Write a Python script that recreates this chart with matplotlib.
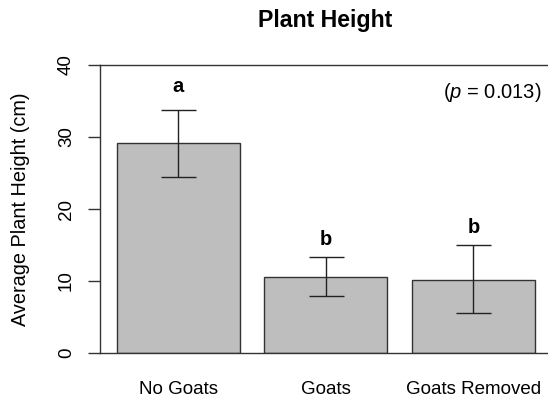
import matplotlib.pyplot as plt
import numpy as np

plt.rcParams['font.family'] = ['Liberation Sans', 'DejaVu Sans']
plt.rcParams['mathtext.fontset'] = 'custom'
plt.rcParams['mathtext.it'] = 'Liberation Sans:italic'
plt.rcParams['mathtext.rm'] = 'Liberation Sans'

# data
groups = ["No Goats", "Goats", "Goats Removed"]
mean_height = [29.2, 10.5, 10.2]
err_upper = [33.8, 13.3, 15.0]
err_lower = [24.4, 7.9, 5.5]
letters = ["a", "b", "b"]
letter_y = [36.2, 15.0, 16.7]
p_text = r"($\mathit{p}$ = 0.013)"

W, H = 548, 404
fig = plt.figure(figsize=(W / 100, H / 100), dpi=100)
ax = fig.add_axes([100 / W, 1 - 353 / H, 448 / W, (353 - 65) / H])

x = np.arange(len(groups))
ax.bar(x, mean_height, width=0.835, color="#bebebe", edgecolor="#333333", linewidth=1.0, zorder=2)

mh = np.array(mean_height)
yerr = [mh - np.array(err_lower), np.array(err_upper) - mh]
ax.errorbar(x, mh, yerr=yerr, fmt="none", ecolor="#222222", elinewidth=1.0,
            capsize=12.6, capthick=1.0, zorder=3)

for xi, ly, lab in zip(x, letter_y, letters):
    ax.text(xi, ly, lab, ha="center", va="baseline", fontsize=14.5, fontweight="bold")

ax.text(0.985, 0.905, p_text, transform=ax.transAxes, ha="right", va="center", fontsize=14.5)

ax.set_xlim(-0.530, 2.505)
ax.set_ylim(0, 40)
ax.set_yticks([0, 10, 20, 30, 40])
ax.set_yticklabels(["0", "10", "20", "30", "40"], rotation=90, va="center", fontsize=13.5)
ax.tick_params(axis="y", length=9, width=1, pad=9, color="#333333")
ax.set_xticks(x)
ax.set_xticklabels(groups, fontsize=13.5)
ax.tick_params(axis="x", length=0, pad=20)
ax.spines["right"].set_visible(False)
for s in ["left", "top", "bottom"]:
    ax.spines[s].set_color("#333333")
    ax.spines[s].set_linewidth(1.0)
ax.set_ylabel("Average Plant Height (cm)", fontsize=14.3, labelpad=20)

fig.text(325 / W, 1 - 27 / H, "Plant Height", ha="center", va="baseline", fontsize=16.7, fontweight="bold")

fig.savefig("out.png", dpi=100)
